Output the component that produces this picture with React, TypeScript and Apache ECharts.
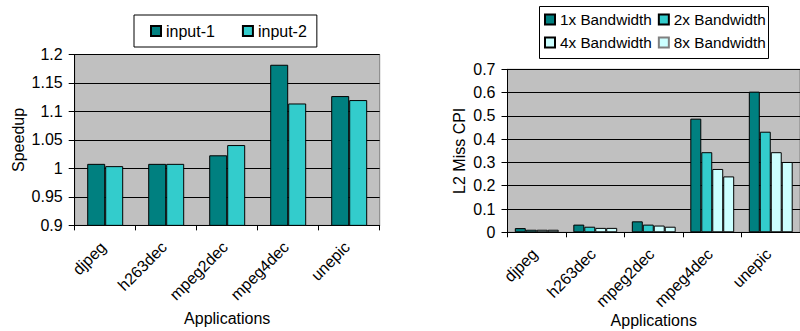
import React, { useEffect, useRef } from "react";
import * as echarts from "echarts";

const apps = ["djpeg", "h263dec", "mpeg2dec", "mpeg4dec", "unepic"];
const speedupTicks = { min: 0.9, max: 1.2, interval: 0.05 };
const input1 = [1.008, 1.008, 1.023, 1.182, 1.127];
const input2 = [1.004, 1.008, 1.041, 1.114, 1.12];

const cpiTicks = { min: 0, max: 0.7, interval: 0.1 };
const bw1x = [0.018, 0.033, 0.047, 0.488, 0.604];
const bw2x = [0.011, 0.024, 0.033, 0.344, 0.432];
const bw4x = [0.011, 0.019, 0.029, 0.272, 0.344];
const bw8x = [0.011, 0.019, 0.024, 0.24, 0.302];

const FONT = "Arial";
const DARK = "#008080";
const MID = "#33CCCC";
const LIGHT = "#CCFFFF";

function barSeries(name: string, data: number[], color: string, idx: number, gap: string) {
  return {
    type: "bar",
    name,
    data,
    xAxisIndex: idx,
    yAxisIndex: idx,
    barGap: "0%",
    barCategoryGap: gap,
    itemStyle: { color, borderColor: "#000", borderWidth: 1 },
    emphasis: { disabled: true },
  };
}

function xAxis(idx: number, nameGap: number) {
  return {
    type: "category",
    gridIndex: idx,
    data: apps,
    axisLine: { show: true, lineStyle: { color: "#000", width: 1 } },
    axisTick: { show: true, length: 5, lineStyle: { color: "#000" } },
    axisLabel: { rotate: 45, margin: 17, fontSize: 16, color: "#000", interval: 0, fontFamily: FONT, padding: [0, 3, 0, 0] },
    name: "Applications",
    nameLocation: "middle",
    nameGap,
    nameTextStyle: { fontSize: 16, color: "#000", fontFamily: FONT },
    splitLine: { show: false },
  };
}

function yAxis(idx: number, t: { min: number; max: number; interval: number }, name: string, nameGap: number) {
  return {
    type: "value",
    gridIndex: idx,
    min: t.min,
    max: t.max,
    interval: t.interval,
    axisLine: { show: true, lineStyle: { color: "#000", width: 1 } },
    axisTick: { show: true, length: 6, lineStyle: { color: "#000" } },
    axisLabel: { margin: 12, fontSize: 16, color: "#000", fontFamily: FONT },
    splitLine: { show: true, lineStyle: { color: "#000", width: 1 } },
    name,
    nameLocation: "middle",
    nameGap,
    nameTextStyle: { fontSize: 16, color: "#000", fontFamily: FONT },
  };
}

function rowLegend(top: number, data: any[]) {
  return {
    left: 544, top,
    padding: 0,
    itemGap: 6, itemWidth: 10, itemHeight: 10,
    icon: "rect",
    selectedMode: false,
    textStyle: { fontSize: 15.3, color: "#000", fontFamily: FONT },
    data,
  };
}

export default function App() {
  const ref = useRef<HTMLDivElement>(null);
  useEffect(() => {
    if (!ref.current) return;
    const chart = echarts.init(ref.current, null, { renderer: "svg" });
    chart.setOption({
      animation: false,
      textStyle: { fontFamily: FONT },
      grid: [
        {
          left: 74.7, top: 54.5, width: 305, height: 172,
          show: true, backgroundColor: "#C0C0C0", borderColor: "#808080", borderWidth: 1,
        },
        {
          left: 507.5, top: 69.3, width: 302, height: 163,
          show: true, backgroundColor: "#C0C0C0", borderColor: "#808080", borderWidth: 1,
        },
      ],
      graphic: [
        {
          type: "rect",
          shape: { x: 539.5, y: 6.5, width: 229, height: 52 },
          style: { fill: "#fff", stroke: "#000", lineWidth: 1 },
          z: -1,
          silent: true,
        },
      ],
      legend: [
        {
          left: 134, top: 15,
          padding: [8, 10, 8, 16],
          itemGap: 27, itemWidth: 10, itemHeight: 10,
          icon: "rect",
          borderColor: "#000", borderWidth: 1,
          selectedMode: false,
          textStyle: { fontSize: 16, color: "#000", fontFamily: FONT },
          data: ["input-1", "input-2"],
        },
        rowLegend(12, ["1x Bandwidth", "2x Bandwidth"]),
        rowLegend(35, ["4x Bandwidth", { name: "8x Bandwidth", itemStyle: { borderColor: "#808080" } }]),
      ],
      xAxis: [xAxis(0, 84), xAxis(1, 80)],
      yAxis: [yAxis(0, speedupTicks, "Speedup", 48), yAxis(1, cpiTicks, "L2 Miss CPI", 40)],
      series: [
        barSeries("input-1", input1, DARK, 0, "41%"),
        barSeries("input-2", input2, MID, 0, "41%"),
        barSeries("1x Bandwidth", bw1x, DARK, 1, "25%"),
        barSeries("2x Bandwidth", bw2x, MID, 1, "25%"),
        barSeries("4x Bandwidth", bw4x, LIGHT, 1, "25%"),
        barSeries("8x Bandwidth", bw8x, LIGHT, 1, "25%"),
      ],
    });
    return () => chart.dispose();
  }, []);
  return (
    <div
      ref={ref}
      style={{ position: "absolute", left: 0, top: 0, width: 800, height: 331, background: "#fff" }}
    />
  );
}
